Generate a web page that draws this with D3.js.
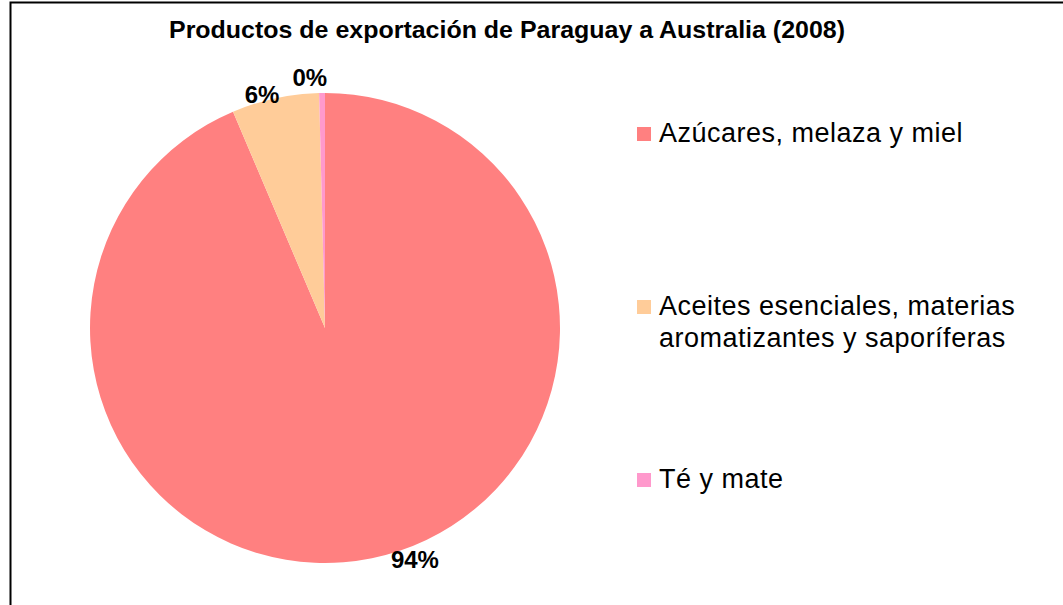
<!DOCTYPE html>
<html>
<head>
<meta charset="utf-8">
<script src="https://cdn.jsdelivr.net/npm/d3@7"></script>
<style>
  body { margin: 0; background: #fff; }
  text { font-family: "Liberation Sans", Arial, sans-serif; }
</style>
</head>
<body>
<div id="chart"></div>
<script>
// data
const categories = ["Azúcares, melaza y miel", "Aceites esenciales, materias aromatizantes y saporíferas", "Té y mate"];
const legendLines = [["Azúcares, melaza y miel"], ["Aceites esenciales, materias", "aromatizantes y saporíferas"], ["Té y mate"]];
const values = [93.6, 6.0, 0.4];
const pctLabels = ["94%", "6%", "0%"];
const colors = ["#ff8080", "#ffcc99", "#ff99cc"];

const width = 1063, height = 605;
const cx = 325, cy = 328, r = 235;

const svg = d3.select("#chart").append("svg")
    .attr("width", width)
    .attr("height", height);

// frame
svg.append("rect")
    .attr("x", 10.5).attr("y", 2.5)
    .attr("width", 1100).attr("height", 700)
    .attr("fill", "none")
    .attr("stroke", "#000")
    .attr("stroke-width", 2);

svg.append("text")
    .attr("x", 507).attr("y", 38)
    .attr("text-anchor", "middle")
    .attr("font-size", 24)
    .attr("font-weight", "bold")
    .attr("textLength", 676)
    .attr("lengthAdjust", "spacingAndGlyphs")
    .text("Productos de exportación de Paraguay a Australia (2008)");

const pie = d3.pie().sort(null).value(d => d);
const arcs = pie(values);
const arc = d3.arc().innerRadius(0).outerRadius(r);
const labelArc = d3.arc().innerRadius(250).outerRadius(250);

const g = svg.append("g").attr("transform", `translate(${cx},${cy})`);

g.selectAll("path")
    .data(arcs)
    .enter().append("path")
    .attr("d", arc)
    .attr("fill", (d, i) => colors[i]);

// excel best-fit label nudges
const nudge = [[40, -13], [-10, 11], [-12, 0]];
g.selectAll("text.pct")
    .data(arcs)
    .enter().append("text")
    .attr("class", "pct")
    .attr("x", (d, i) => labelArc.centroid(d)[0] + nudge[i][0])
    .attr("y", (d, i) => labelArc.centroid(d)[1] + nudge[i][1])
    .attr("dy", "0.35em")
    .attr("text-anchor", "middle")
    .attr("font-size", 24)
    .attr("font-weight", "bold")
    .text((d, i) => pctLabels[i]);

// legend
const legendY = d3.scalePoint().domain(categories).range([127, 473]);
const leg = svg.selectAll("g.leg")
    .data(categories)
    .enter().append("g")
    .attr("class", "leg")
    .attr("transform", d => `translate(637,${legendY(d)})`);

leg.append("rect")
    .attr("width", 14).attr("height", 14)
    .attr("fill", (d, i) => colors[i]);

leg.each(function(d, i) {
    const t = d3.select(this).append("text")
        .attr("font-size", 27)
        .attr("letter-spacing", 0.5);
    legendLines[i].forEach((line, j) => {
        t.append("tspan")
            .attr("x", 22)
            .attr("y", 15 + j * 32)
            .text(line);
    });
});
</script>
</body>
</html>
